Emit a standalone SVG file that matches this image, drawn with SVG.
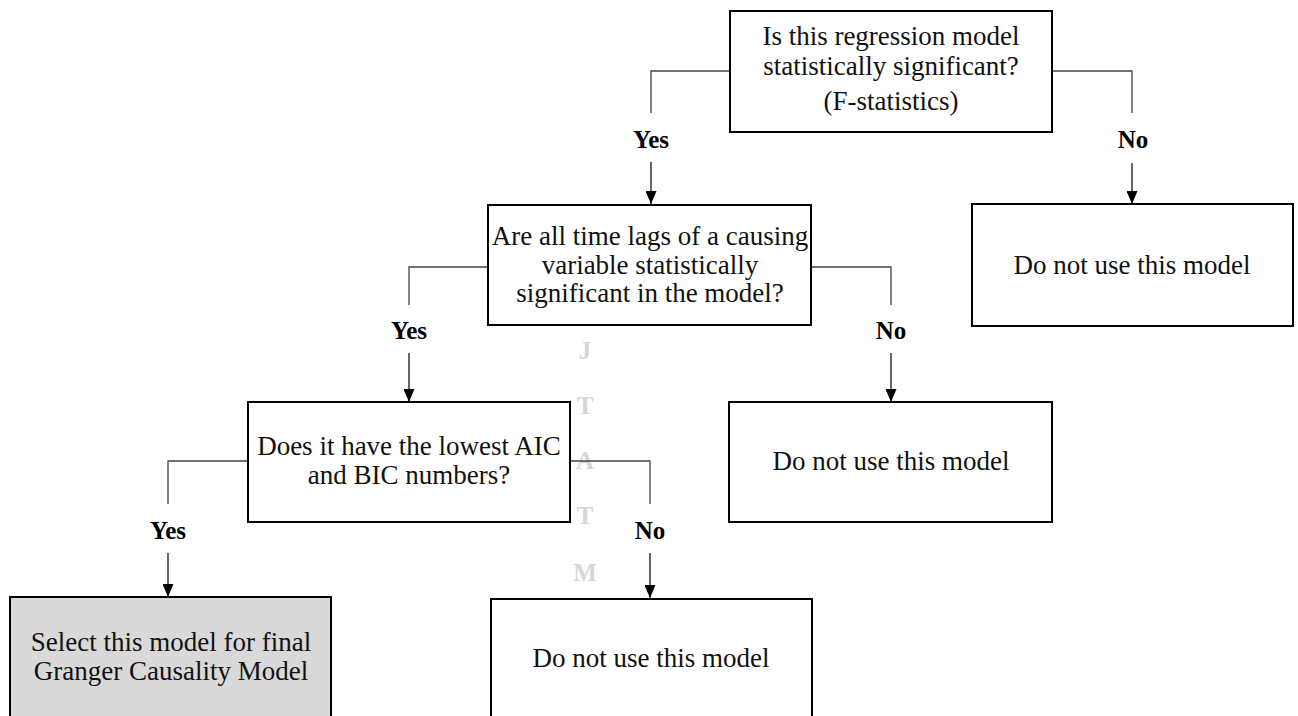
<svg xmlns="http://www.w3.org/2000/svg" width="1298" height="716" viewBox="0 0 1298 716">
<defs>
<marker id="arr" viewBox="0 0 13 11" refX="13" refY="5.5" markerWidth="13" markerHeight="11" markerUnits="userSpaceOnUse" orient="auto">
<path d="M0,0 L13,5.5 L0,11 Z" fill="#000"/>
</marker>
<style>
.box{fill:#fff;stroke:#000;stroke-width:2}
.sel{fill:#d9d9d9;stroke:#000;stroke-width:2}
.t{font-family:"Liberation Serif","Times New Roman",serif;font-size:27px;fill:#111;text-anchor:middle}
.lb{font-family:"Liberation Serif","Times New Roman",serif;font-size:25px;font-weight:bold;fill:#000;text-anchor:middle}
.wm{font-family:"Liberation Serif","Times New Roman",serif;font-size:25px;font-weight:bold;fill:#d6d6d6;text-anchor:middle}
.ln{fill:none;stroke:#444;stroke-width:1.3}
.ar{fill:none;stroke:#000;stroke-width:1.2}
</style>
</defs>
<rect width="1298" height="716" fill="#fff"/>

<g id="watermark">
<text class="wm" x="585" y="359">J</text>
<text class="wm" x="585" y="414">T</text>
<text class="wm" x="585" y="469">A</text>
<text class="wm" x="585" y="524">T</text>
<text class="wm" x="585" y="581">M</text>
</g>

<g id="connectors">
<path class="ln" d="M730,71 H651 V113"/>
<path class="ar" d="M651,162 V204" marker-end="url(#arr)"/>
<text class="lb" x="651" y="148">Yes</text>
<path class="ln" d="M1052,71 H1132 V113"/>
<path class="ar" d="M1132,163 V204" marker-end="url(#arr)"/>
<text class="lb" x="1133" y="148">No</text>

<path class="ln" d="M488,267 H409 V305"/>
<path class="ar" d="M409,353 V402" marker-end="url(#arr)"/>
<text class="lb" x="409" y="339">Yes</text>
<path class="ln" d="M811,267 H891 V305"/>
<path class="ar" d="M891,353 V402" marker-end="url(#arr)"/>
<text class="lb" x="891" y="339">No</text>

<path class="ln" d="M248,461 H168 V504"/>
<path class="ar" d="M168,553 V597" marker-end="url(#arr)"/>
<text class="lb" x="168" y="539">Yes</text>
<path class="ln" d="M570,461 H650 V504"/>
<path class="ar" d="M650,553 V598" marker-end="url(#arr)"/>
<text class="lb" x="650" y="539">No</text>
</g>

<g id="q1">
<rect class="box" x="730" y="11" width="322" height="121"/>
<text class="t" x="891" y="45">Is this regression model</text>
<text class="t" x="891" y="75">statistically  significant?</text>
<text class="t" x="891" y="110">(F-statistics)</text>
</g>

<g id="no1">
<rect class="box" x="972" y="204" width="321" height="122"/>
<text class="t" x="1132" y="274">Do not use this model</text>
</g>

<g id="q2">
<rect class="box" x="488" y="205" width="323" height="120"/>
<text class="t" x="650" y="245">Are all time lags of a causing</text>
<text class="t" x="650" y="274">variable  statistically</text>
<text class="t" x="650" y="302">significant  in the model?</text>
</g>

<g id="no2">
<rect class="box" x="729" y="402" width="323" height="120"/>
<text class="t" x="891" y="470">Do not use this model</text>
</g>

<g id="q3">
<rect class="box" x="248" y="402" width="322" height="120"/>
<text class="t" x="409" y="455">Does it have the lowest AIC</text>
<text class="t" x="409" y="484">and BIC numbers?</text>
</g>

<g id="select">
<rect class="sel" x="10" y="597" width="321" height="124"/>
<text class="t" x="171" y="651">Select this model for final</text>
<text class="t" x="171" y="680">Granger Causality Model</text>
</g>

<g id="no3">
<rect class="box" x="491" y="599" width="321" height="122"/>
<text class="t" x="651" y="667">Do not use this model</text>
</g>
</svg>
